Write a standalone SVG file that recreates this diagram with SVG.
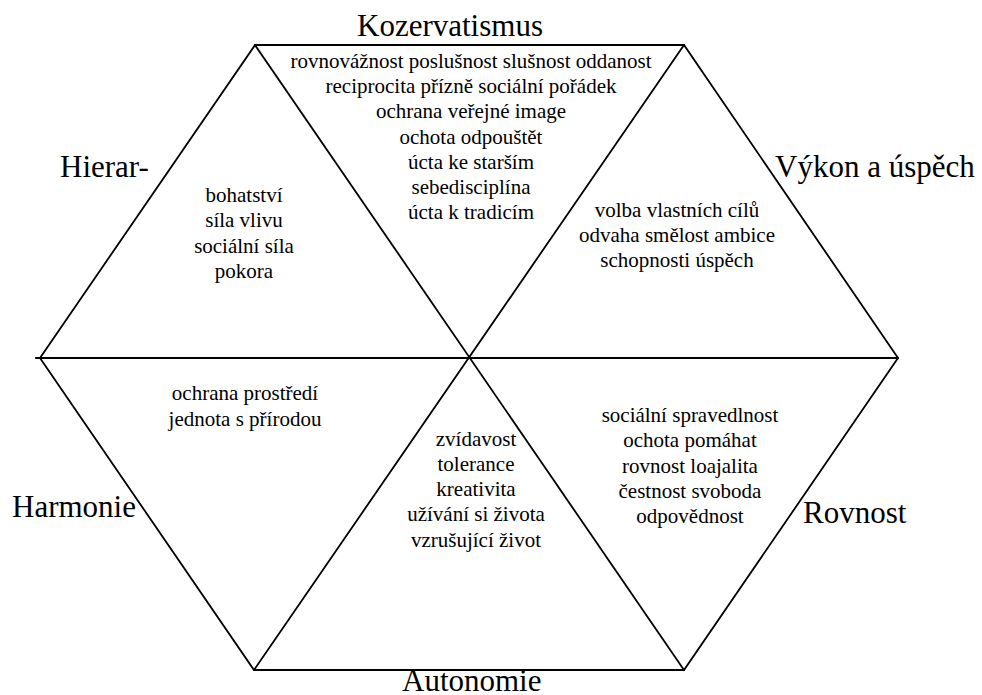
<svg xmlns="http://www.w3.org/2000/svg" width="982" height="695" viewBox="0 0 982 695">
<style>
.ln{stroke:#000;stroke-width:1.8;fill:none;stroke-linecap:square}
.lab{font-family:'Liberation Serif','Times New Roman',serif;font-size:31px;fill:#000}
.t{font-family:'Liberation Serif','Times New Roman',serif;font-size:21px;fill:#000;text-anchor:middle}
</style>
<rect width="982" height="695" fill="#fff"/>
<g id="connectors">
<polyline class="ln" points="255,45 684,45 898,358 684,670 254,670 40,358 255,45"/>
<line class="ln" x1="36" y1="358" x2="898" y2="358"/>
<line class="ln" x1="255" y1="45" x2="684" y2="670"/>
<line class="ln" x1="684" y1="45" x2="254" y2="670"/>
</g>
<g id="label-kozervatismus"><text class="lab" x="357" y="36">Kozervatismus</text></g>
<g id="label-hierar"><text class="lab" x="60" y="177">Hierar-</text></g>
<g id="label-vykon"><text class="lab" x="775" y="177">Výkon a úspěch</text></g>
<g id="label-harmonie"><text class="lab" x="12" y="517">Harmonie</text></g>
<g id="label-rovnost"><text class="lab" x="803" y="523">Rovnost</text></g>
<g id="label-autonomie"><text class="lab" x="402" y="691">Autonomie</text></g>
<g id="node-kozervatismus">
<text class="t" x="471" y="68">rovnovážnost poslušnost slušnost oddanost</text>
<text class="t" x="471" y="93">reciprocita přízně sociální pořádek</text>
<text class="t" x="471" y="118">ochrana veřejné image</text>
<text class="t" x="471" y="144">ochota odpouštět</text>
<text class="t" x="471" y="169">úcta ke starším</text>
<text class="t" x="471" y="194">sebedisciplína</text>
<text class="t" x="471" y="219">úcta k tradicím</text>
</g>
<g id="node-hierarchie">
<text class="t" x="244" y="202">bohatství</text>
<text class="t" x="244" y="227">síla vlivu</text>
<text class="t" x="244" y="253">sociální síla</text>
<text class="t" x="244" y="278">pokora</text>
</g>
<g id="node-vykon">
<text class="t" x="677" y="217">volba vlastních cílů</text>
<text class="t" x="677" y="242">odvaha smělost ambice</text>
<text class="t" x="677" y="267">schopnosti úspěch</text>
</g>
<g id="node-harmonie">
<text class="t" x="245" y="400">ochrana prostředí</text>
<text class="t" x="245" y="426">jednota s přírodou</text>
</g>
<g id="node-autonomie">
<text class="t" x="476" y="446">zvídavost</text>
<text class="t" x="476" y="471">tolerance</text>
<text class="t" x="476" y="496">kreativita</text>
<text class="t" x="476" y="521">užívání si života</text>
<text class="t" x="476" y="547">vzrušující život</text>
</g>
<g id="node-rovnost">
<text class="t" x="690" y="422">sociální spravedlnost</text>
<text class="t" x="690" y="447">ochota pomáhat</text>
<text class="t" x="690" y="473">rovnost loajalita</text>
<text class="t" x="690" y="498">čestnost svoboda</text>
<text class="t" x="690" y="523">odpovědnost</text>
</g>
</svg>
